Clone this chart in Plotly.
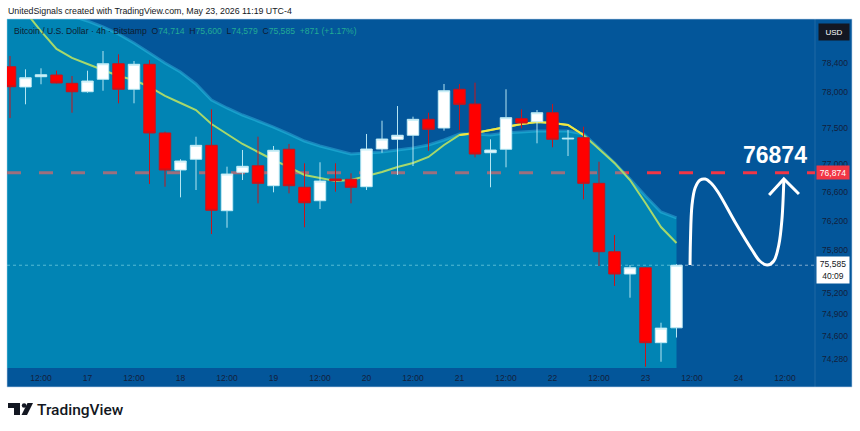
import plotly.graph_objects as go
import pandas as pd

# ---------------- data ----------------
times = pd.date_range("2026-05-16 04:00", "2026-05-23 08:00", freq="4h")
opens  = [78348, 78066, 78209, 78233, 78117, 78000, 78173, 78390, 78034, 78382, 77426,
          76911, 77060, 77254, 76344, 76879, 76970, 76692, 77199, 76670, 76483, 76785,
          76781, 76678, 77203, 77338, 77394, 77616, 77495, 78034, 77829, 77151, 77199,
          77625, 77583, 77708, 77342, 77360, 76725, 75773, 75463, 75550, 74507, 74714]
highs  = [78497, 78312, 78326, 78293, 78219, 78293, 78567, 78521, 78428, 78442, 77445,
          77060, 77374, 77755, 76957, 77189, 77374, 77245, 77273, 77004, 77018, 77004,
          76865, 77412, 77597, 77801, 77653, 77708, 78108, 78108, 78126, 77338, 78034,
          77755, 77746, 77829, 77467, 77513, 77026, 76006, 75588, 75560, 74785, 75600]
lows   = [77634, 77825, 78104, 78117, 77708, 77987, 78014, 77839, 77839, 76716, 76678,
          76530, 76632, 76020, 76107, 76771, 76447, 76600, 76586, 76113, 76368, 76609,
          76447, 76632, 77151, 76841, 76966, 77179, 77458, 77467, 77087, 76670, 76948,
          77491, 77282, 77227, 77105, 76503, 75574, 75296, 75133, 74173, 74242, 74579]
closes = [78070, 78195, 78237, 78122, 78000, 78149, 78390, 78034, 78382, 77426, 76911,
          77036, 77254, 76350, 76855, 76962, 76725, 77185, 76692, 76455, 76757, 76762,
          76670, 77203, 77342, 77394, 77616, 77477, 78014, 77825, 77133, 77189, 77639,
          77565, 77708, 77338, 77352, 76725, 75773, 75463, 75550, 74507, 74710, 75585]

# indicator series (start one bar earlier, off-screen)
ind_times = pd.date_range("2026-05-16 00:00", "2026-05-23 08:00", freq="4h")
envelope = [79416, 79347, 79277, 79179, 79110, 79054, 78985, 78901, 78804, 78678, 78539,
            78400, 78275, 78108, 77885, 77774, 77676, 77593, 77509, 77412, 77314, 77245,
            77189, 77133, 77147, 77161, 77189, 77217, 77259, 77328, 77412, 77412, 77398,
            77426, 77440, 77454, 77454, 77454, 77412, 77217, 77009, 76785, 76549, 76326, 76243]
ma_line  = [79625, 79388, 79110, 78845, 78595, 78470, 78386, 78303, 78219, 78163, 78066,
            77941, 77843, 77746, 77551, 77412, 77273, 77161, 77050, 76952, 76841, 76799,
            76758, 76771, 76827, 76883, 76952, 77008, 77092, 77259, 77398, 77426, 77467,
            77509, 77551, 77579, 77565, 77537, 77398, 77203, 77009, 76771, 76451, 76117, 75895]

target_level = 76874
last_price = 75585
last_price_label = "75,585"
countdown = "40:09"

price_ticks = [78400, 78000, 77500, 77000, 76600, 76200, 75800, 75200, 74900, 74600, 74280]
time_tick_times = pd.to_datetime([
    "2026-05-16 12:00", "2026-05-17 00:00", "2026-05-17 12:00", "2026-05-18 00:00",
    "2026-05-18 12:00", "2026-05-19 00:00", "2026-05-19 12:00", "2026-05-20 00:00",
    "2026-05-20 12:00", "2026-05-21 00:00", "2026-05-21 12:00", "2026-05-22 00:00",
    "2026-05-22 12:00", "2026-05-23 00:00", "2026-05-23 12:00", "2026-05-24 00:00",
    "2026-05-24 12:00"])
time_tick_labels = ["12:00", "17", "12:00", "18", "12:00", "19", "12:00", "20", "12:00",
                    "21", "12:00", "22", "12:00", "23", "12:00", "24", "12:00"]

# hand drawing (hours since 16 May 00:00, price)
draw_h = [179.5, 179.6, 180.0, 180.8, 182.1, 183.4, 184.9, 186.7, 191.1, 195.5, 197.5,
          199.4, 201.1, 202.4, 203.2, 203.7]
draw_p = [75588, 75936, 76423, 76660, 76771, 76785, 76730, 76604, 76187, 75797, 75644,
          75588, 75644, 75867, 76215, 76771]
arrow_h = [199.9, 203.7, 207.6]
arrow_p = [76563, 76785, 76577]

# ---------------- helpers ----------------
T0 = pd.Timestamp("2026-05-16 00:00")
def hours(ts):
    return [(t - T0).total_seconds() / 3600.0 for t in ts]

cand_h = hours(times)
ind_h = hours(ind_times)
tick_h = hours(time_tick_times)

W, H = 860, 431
PX_L, PX_R, PX_T, PX_B = 7, 815, 19, 368
def xp(px):
    return (px - PX_L) / (PX_R - PX_L)
def yp(py):
    return (PX_B - py) / (PX_B - PX_T)

X_RANGE = [4 - 3 / 3.875, 4 + 805 / 3.875]
Y_RANGE = [74154.7, 79012.4]

DARK = "#03569a"
FONT = "Liberation Sans, Arial, sans-serif"
LABEL = "#13203a"

def polyline(xs, ys):
    return "M " + " L ".join(f"{a} {b}" for a, b in zip(xs, ys))

fig = go.Figure()

# candles
fig.add_trace(go.Candlestick(
    x=cand_h, open=opens, high=highs, low=lows, close=closes,
    increasing=dict(fillcolor="#ffffff", line=dict(color="rgba(190,235,245,0.95)", width=1)),
    decreasing=dict(fillcolor="#ff0000", line=dict(color="#c8141c", width=1)),
    whiskerwidth=0, showlegend=False, hoverinfo="skip"))

# hand drawing
fig.add_trace(go.Scatter(
    x=draw_h, y=draw_p, mode="lines",
    line=dict(color="white", width=3, shape="spline", smoothing=1.0),
    hoverinfo="skip", showlegend=False))
fig.add_trace(go.Scatter(
    x=arrow_h, y=arrow_p, mode="lines",
    line=dict(color="white", width=3), hoverinfo="skip", showlegend=False))

# envelope area + moving average as shapes (below the candles)
area_path = (f"M {ind_h[0]} {Y_RANGE[0]} "
             + " ".join(f"L {h} {v}" for h, v in zip(ind_h, envelope))
             + f" L {ind_h[-1]} {Y_RANGE[0]} Z")

shapes = [
    # frame
    dict(type="rect", xref="paper", yref="paper", x0=xp(7), x1=xp(852), y0=yp(387), y1=yp(19),
         fillcolor=DARK, line=dict(color="rgba(190,210,235,0.6)", width=1), layer="below"),
    # separator price axis
    dict(type="line", xref="paper", yref="paper", x0=1, x1=1, y0=yp(387), y1=1,
         line=dict(color="rgba(255,255,255,0.12)", width=1), layer="below"),
    # target dashed level
    dict(type="line", xref="paper", yref="y", x0=0, x1=1, y0=target_level, y1=target_level,
         line=dict(color="#f23645", width=3, dash="14px,18px"), layer="below"),
    # current price dotted
    dict(type="line", xref="paper", yref="y", x0=0, x1=1, y0=last_price, y1=last_price,
         line=dict(color="rgba(255,255,255,0.5)", width=1, dash="dot"), layer="below"),
    # envelope fill and edge
    dict(type="path", xref="x", yref="y", path=area_path,
         fillcolor="rgba(0,217,228,0.35)", line=dict(width=0), layer="below"),
    dict(type="path", xref="x", yref="y", path=polyline(ind_h, envelope),
         line=dict(color="rgba(60,205,240,0.40)", width=3), layer="below"),
    # moving average
    dict(type="path", xref="x", yref="y", path=polyline(ind_h, ma_line),
         line=dict(color="#a6d86c", width=2), layer="below"),
    dict(type="path", xref="x", yref="y", path=polyline(ind_h[30:39], ma_line[30:39]),
         line=dict(color="#f2e640", width=2), layer="below"),
    # TradingView logo icon
    dict(type="rect", xref="paper", yref="paper", x0=xp(8), x1=xp(20), y0=yp(408), y1=yp(403),
         fillcolor="#131722", line=dict(width=0)),
    dict(type="rect", xref="paper", yref="paper", x0=xp(14), x1=xp(20), y0=yp(415), y1=yp(403),
         fillcolor="#131722", line=dict(width=0)),
    dict(type="circle", xref="paper", yref="paper", x0=xp(21.8), x1=xp(26.4), y0=yp(407.8), y1=yp(403.2),
         fillcolor="#131722", line=dict(width=0)),
    dict(type="path", xref="paper", yref="paper",
         path=f"M {xp(27.5)} {yp(403)} L {xp(33)} {yp(403)} L {xp(27)} {yp(415)} L {xp(21.5)} {yp(415)} Z",
         fillcolor="#131722", line=dict(width=0)),
]

g = "#22ab94"
ticker = ("Bitcoin / U.S. Dollar · 4h · Bitstamp&nbsp;&nbsp;"
          f"O<span style='color:{g}'>74,714</span>&nbsp;&nbsp;"
          f"H<span style='color:{g}'>75,600</span>&nbsp;&nbsp;"
          f"L<span style='color:{g}'>74,579</span>&nbsp;&nbsp;"
          f"C<span style='color:{g}'>75,585</span>&nbsp;&nbsp;"
          f"<span style='color:{g}'>+871 (+1.17%)</span>")

annotations = [
    dict(text="UnitedSignals created with TradingView.com, May 23, 2026 11:19 UTC-4",
         xref="paper", yref="paper", x=xp(6), y=yp(11), xanchor="left", yanchor="middle",
         showarrow=False, font=dict(family=FONT, size=8.8, color="#131722")),
    dict(text=ticker, xref="paper", yref="paper", x=xp(12), y=yp(31), xanchor="left",
         yanchor="middle", showarrow=False, font=dict(family=FONT, size=8.6, color="#0f1b30")),
    dict(text=f"<b>{target_level}</b>", x=ind_h[0] + (775 - (-5.5)) * 4 / 15.5, y=target_level,
         xanchor="center", yanchor="bottom", yshift=3, showarrow=False,
         font=dict(family=FONT, size=23, color="white")),
    dict(text=f"{target_level:,}", xref="paper", yref="y", x=xp(816), y=target_level,
         xanchor="left", yanchor="middle", showarrow=False, bgcolor="#f23645",
         width=30, height=11, borderpad=1, font=dict(family=FONT, size=8.5, color="white")),
    dict(text=f"{last_price_label}<br>{countdown}", xref="paper", yref="y", x=xp(816), y=last_price,
         xanchor="left", yanchor="top", yshift=9, showarrow=False, bgcolor="#ffffff",
         width=30, height=24, borderpad=1, font=dict(family=FONT, size=8.5, color="#131722")),
    dict(text="USD", xref="paper", yref="paper", x=xp(818), y=yp(23), xanchor="left",
         yanchor="top", showarrow=False, bgcolor="#131722", width=28, height=14, borderpad=1,
         font=dict(family=FONT, size=8, color="white")),
    dict(text="TradingView", xref="paper", yref="paper", x=xp(35), y=yp(410), xanchor="left",
         yanchor="middle", showarrow=False,
         font=dict(family="Roboto, sans-serif", size=15.5, color="#131722", weight=500)),
]

fig.update_layout(
    width=W, height=H,
    margin=dict(l=PX_L, r=W - PX_R, t=PX_T, b=H - PX_B, pad=0),
    paper_bgcolor="white", plot_bgcolor=DARK,
    showlegend=False, hovermode=False,
    boxgap=0.26, boxgroupgap=0,
    shapes=shapes, annotations=annotations,
    xaxis=dict(range=X_RANGE, tickvals=tick_h, ticktext=time_tick_labels,
               showgrid=False, zeroline=False, showline=False, ticks="",
               rangeslider=dict(visible=False), fixedrange=True,
               tickfont=dict(family=FONT, size=8.5, color=LABEL), ticklabelstandoff=3),
    yaxis=dict(range=Y_RANGE, side="right", tickvals=price_ticks,
               ticktext=[f"{v:,}" for v in price_ticks],
               showgrid=False, zeroline=False, showline=False, ticks="", fixedrange=True,
               tickfont=dict(family=FONT, size=8.5, color=LABEL), ticklabelstandoff=6),
)

fig.write_html("out.html")
